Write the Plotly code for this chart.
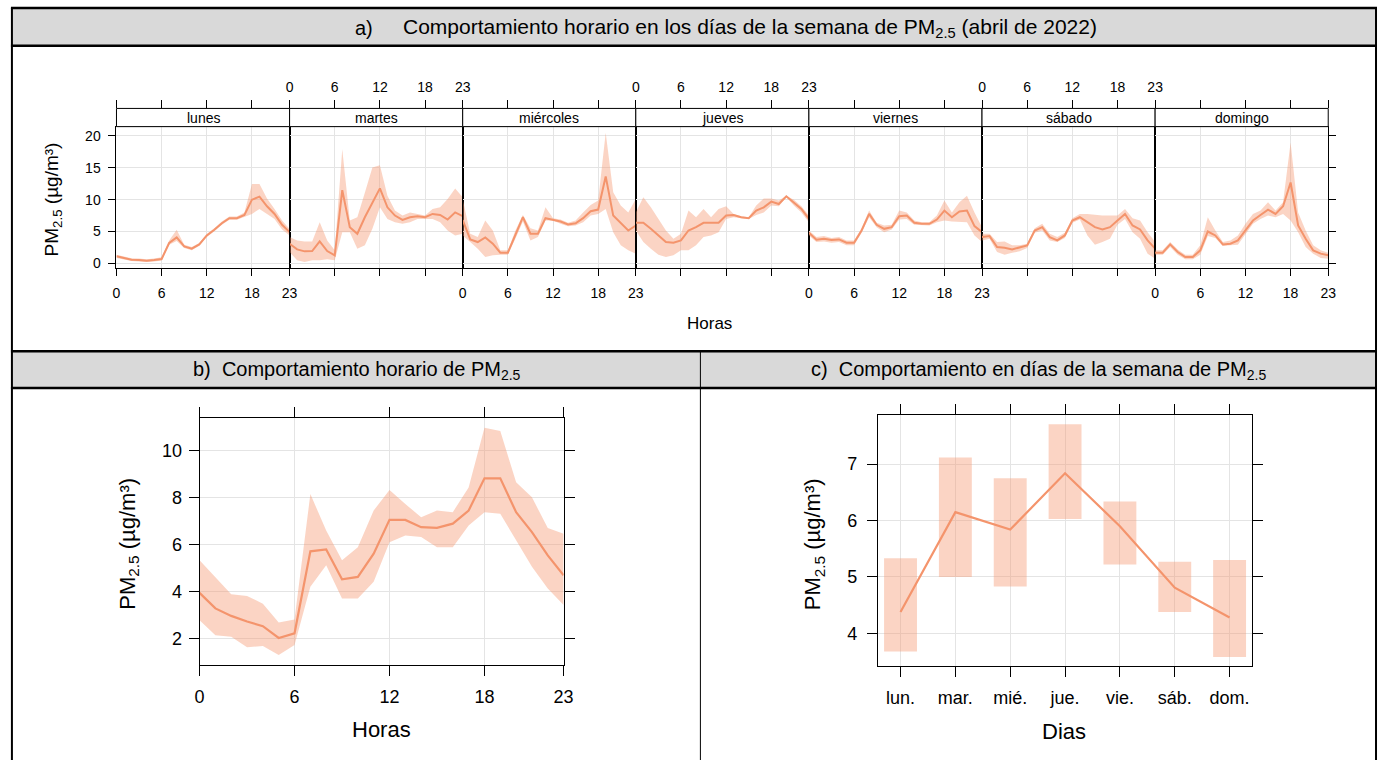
import plotly.graph_objects as go

W, H = 1387, 764
FONT = "Liberation Sans, Arial, sans-serif"
LINE_COL = "rgb(244,148,108)"
BAND_COL = "rgba(244,148,108,0.40)"
GRID_COL = "#e4e4e4"

# ---------------- data ----------------
HOURS = list(range(24))
DAY_NAMES = ["lunes", "martes", "miércoles", "jueves", "viernes", "sábado", "domingo"]

lunes_mean = [1.1, 0.84, 0.58, 0.53, 0.42, 0.53, 0.68, 3.2, 4.07, 2.66, 2.3, 2.97, 4.38, 5.27, 6.3, 7.09, 7.09, 7.6, 10.0, 10.47, 8.96, 7.76, 6.05, 4.9]
lunes_low = [0.85, 0.6, 0.35, 0.3, 0.2, 0.3, 0.45, 2.9, 3.5, 2.4, 2.05, 2.75, 4.15, 5.05, 6.05, 6.85, 6.85, 7.25, 7.76, 8.55, 7.76, 6.98, 5.3, 4.38]
lunes_high = [1.35, 1.1, 0.8, 0.75, 0.65, 0.75, 0.95, 3.6, 5.27, 2.9, 2.55, 3.2, 4.6, 5.5, 6.55, 7.35, 7.35, 8.0, 12.45, 12.45, 10.2, 8.55, 6.72, 5.4]

martes_mean = [3.07, 2.19, 1.88, 1.93, 3.44, 1.93, 1.26, 11.5, 5.68, 4.64, 7.24, 9.59, 11.77, 8.8, 7.5, 6.82, 7.24, 7.4, 7.24, 7.76, 7.6, 6.87, 8.0, 7.4]
martes_low = [1.78, 0.47, 0.21, 0.47, 0.47, 0.63, 0.47, 4.9, 4.9, 2.3, 2.82, 5.42, 8.8, 6.98, 6.46, 6.2, 6.46, 6.98, 6.98, 6.98, 6.46, 5.16, 4.38, 4.64]
martes_high = [4.12, 3.6, 3.44, 3.44, 6.46, 3.6, 2.04, 17.9, 6.72, 7.24, 11.1, 15.05, 15.4, 10.6, 8.28, 7.5, 8.0, 7.76, 7.5, 8.55, 8.8, 10.1, 11.77, 10.36]

miercoles_mean = [6.8, 3.75, 3.34, 4.07, 3.08, 1.67, 1.67, 4.48, 7.24, 4.64, 4.64, 7.09, 6.87, 6.57, 6.1, 6.3, 7.09, 8.18, 8.44, 13.65, 7.5, 6.36, 5.16, 5.94]
miercoles_low = [4.38, 3.34, 2.3, 0.99, 1.25, 1.36, 1.36, 3.86, 6.57, 3.6, 4.12, 6.72, 6.72, 6.2, 5.84, 5.94, 6.46, 7.5, 7.76, 8.55, 4.9, 2.82, 2.04, 1.52]
miercoles_high = [10.1, 4.64, 4.12, 6.72, 5.16, 2.04, 2.04, 5.16, 7.6, 5.52, 5.16, 8.8, 7.09, 6.87, 6.36, 6.72, 8.0, 9.17, 9.85, 20.5, 11.15, 9.07, 8.0, 10.1]

jueves_mean = [6.36, 6.36, 5.42, 4.38, 3.34, 3.23, 3.6, 5.16, 5.68, 6.36, 6.36, 6.36, 7.5, 7.6, 7.24, 7.09, 8.28, 8.8, 9.69, 9.32, 10.52, 9.59, 8.55, 6.98]
jueves_low = [5.16, 3.34, 2.3, 1.36, 0.99, 1.25, 2.04, 2.04, 2.82, 4.12, 4.38, 4.9, 6.98, 7.24, 7.09, 6.98, 7.6, 8.0, 9.07, 8.96, 10.36, 9.07, 8.0, 6.46]
jueves_high = [8.0, 10.36, 8.8, 6.98, 5.16, 3.86, 4.64, 8.28, 7.24, 8.55, 7.24, 8.55, 8.96, 7.76, 7.4, 7.24, 9.07, 10.2, 10.2, 9.85, 10.63, 10.0, 8.96, 7.5]

viernes_mean = [4.8, 3.7, 3.86, 3.65, 3.75, 3.23, 3.23, 5.16, 7.76, 6.05, 5.42, 5.68, 7.4, 7.5, 6.36, 6.2, 6.2, 6.87, 8.28, 7.24, 8.13, 8.28, 5.84, 4.9]
viernes_low = [4.38, 3.34, 3.44, 3.23, 3.34, 2.82, 2.82, 4.8, 7.24, 5.68, 4.9, 5.32, 6.87, 6.98, 6.05, 5.94, 5.94, 6.46, 6.72, 6.56, 6.46, 6.46, 4.38, 3.34]
viernes_high = [5.16, 4.12, 4.28, 3.96, 4.12, 3.6, 3.6, 5.52, 8.28, 6.36, 5.94, 6.05, 8.28, 8.0, 6.72, 6.46, 6.46, 7.5, 9.85, 8.0, 9.59, 10.63, 8.0, 5.68]

sabado_mean = [4.12, 4.28, 2.56, 2.45, 2.19, 2.45, 2.82, 5.16, 5.68, 4.12, 3.6, 4.38, 6.72, 7.24, 6.46, 5.68, 5.32, 5.68, 6.72, 7.76, 5.94, 5.32, 3.6, 2.3]
sabado_low = [3.6, 3.86, 1.78, 1.36, 1.67, 1.88, 2.4, 4.8, 5.16, 3.6, 3.34, 3.96, 6.36, 6.87, 4.38, 2.92, 3.34, 3.86, 6.05, 6.98, 4.9, 3.86, 1.52, 0.73]
sabado_high = [4.64, 4.64, 3.34, 3.44, 2.82, 2.82, 3.08, 5.52, 6.2, 4.64, 4.12, 4.8, 7.09, 7.76, 7.76, 7.6, 7.5, 7.5, 7.5, 8.55, 7.09, 6.72, 4.9, 3.34]

domingo_mean = [1.67, 1.67, 2.97, 1.78, 0.99, 0.99, 2.04, 5.0, 4.38, 2.97, 3.08, 3.6, 5.16, 6.72, 7.6, 8.44, 7.76, 8.96, 12.7, 5.94, 3.86, 2.04, 1.52, 1.26]
domingo_low = [1.36, 1.36, 2.56, 1.36, 0.63, 0.63, 1.36, 4.28, 3.96, 2.71, 2.82, 2.92, 4.64, 6.2, 6.98, 7.5, 7.24, 7.76, 6.72, 4.9, 2.56, 1.52, 0.84, 0.73]
domingo_high = [2.04, 2.04, 3.34, 2.19, 1.36, 1.36, 2.82, 7.24, 5.16, 3.34, 3.6, 4.38, 6.2, 7.76, 8.28, 9.59, 8.28, 9.59, 18.96, 8.0, 5.16, 2.82, 2.04, 1.67]

hourly_mean = [3.95, 3.29, 2.97, 2.73, 2.53, 2.03, 2.23, 5.72, 5.8, 4.53, 4.63, 5.62, 7.06, 7.06, 6.75, 6.72, 6.9, 7.46, 8.83, 8.83, 7.39, 6.54, 5.55, 4.70]
hourly_low = [2.79, 2.15, 2.08, 1.63, 1.69, 1.30, 1.73, 4.21, 5.13, 3.71, 3.71, 4.42, 6.11, 6.4, 6.33, 5.9, 5.9, 6.82, 7.39, 7.32, 6.19, 5.06, 4.14, 3.43]
hourly_high = [5.34, 4.63, 3.89, 3.82, 3.49, 2.69, 2.82, 8.16, 6.61, 5.34, 5.9, 7.46, 8.33, 7.74, 7.17, 7.46, 7.39, 8.44, 10.99, 10.85, 8.66, 8.02, 6.72, 6.47]

weekday_labels = ["lun.", "mar.", "mié.", "jue.", "vie.", "sáb.", "dom."]
weekday_mean = [4.38, 6.15, 5.84, 6.84, 5.9, 4.81, 4.28]
weekday_low = [3.68, 5.0, 4.83, 6.03, 5.22, 4.38, 3.58]
weekday_high = [5.33, 7.12, 6.75, 7.71, 6.34, 5.27, 5.30]

hour_ticks = [0, 6, 12, 18, 23]
a_yticks = [0, 5, 10, 15, 20]
b_yticks = [2, 4, 6, 8, 10]
c_yticks = [4, 5, 6, 7]

day_series = [
    (lunes_mean, lunes_low, lunes_high),
    (martes_mean, martes_low, martes_high),
    (miercoles_mean, miercoles_low, miercoles_high),
    (jueves_mean, jueves_low, jueves_high),
    (viernes_mean, viernes_low, viernes_high),
    (sabado_mean, sabado_low, sabado_high),
    (domingo_mean, domingo_low, domingo_high),
]


# ---------------- helpers ----------------
def X(px):
    return px / W


def Y(py):
    return 1 - py / H


def axname(i):
    return "x" if i == 1 else f"x{i}"


fig = go.Figure()

# ---------------- panel a ----------------
PA_L, PA_W = 112.7, 175.0
PA_TOP, PA_BOT = 127.3, 269.0
STRIP_TOP = 109.0

for d, (m, lo, hi) in enumerate(day_series):
    xa = axname(d + 1)
    fig.add_trace(go.Scatter(x=HOURS + HOURS[::-1], y=hi + lo[::-1], fill="toself",
                             fillcolor=BAND_COL, line=dict(width=0), mode="lines",
                             hoverinfo="skip", xaxis=xa, yaxis="y"))
    fig.add_trace(go.Scatter(x=HOURS, y=m, mode="lines", line=dict(color=LINE_COL, width=2),
                             xaxis=xa, yaxis="y"))
    fig.add_trace(go.Scatter(x=[], y=[], xaxis=f"x{d + 8}", yaxis="y", showlegend=False))
fig.add_trace(go.Scatter(x=[], y=[], xaxis="x7", yaxis="y2", showlegend=False))

tickfont_a = dict(family=FONT, size=14, color="black")
layout = {}
for d in range(7):
    dom = [X(PA_L + PA_W * d), X(PA_L + PA_W * (d + 1))]
    key = "xaxis" if d == 0 else f"xaxis{d + 1}"
    layout[key] = dict(domain=dom, range=[0, 23], tickvals=hour_ticks, ticks="outside", ticklen=7,
                       tickcolor="black", showline=True, mirror=True, linecolor="black", linewidth=1,
                       showgrid=True, gridcolor=GRID_COL, zeroline=False, anchor="y",
                       showticklabels=(d % 2 == 0), tickfont=tickfont_a, ticklabelstandoff=6,
                       fixedrange=True)
    layout[f"xaxis{d + 8}"] = dict(overlaying=axname(d + 1), anchor="free", position=Y(STRIP_TOP),
                                   side="top", range=[0, 23], tickvals=hour_ticks, ticks="outside",
                                   ticklen=8, tickcolor="black", showline=False, showgrid=False,
                                   zeroline=False, showticklabels=(d % 2 == 1), tickfont=tickfont_a,
                                   ticklabelstandoff=3)
layout["yaxis"] = dict(domain=[Y(PA_BOT), Y(PA_TOP)], range=[-0.67, 21.47], tickvals=a_yticks,
                       ticks="outside", ticklen=7, tickcolor="black", showline=True, mirror="all",
                       linecolor="black", linewidth=1, showgrid=True, gridcolor=GRID_COL,
                       zeroline=False, anchor="x", tickfont=tickfont_a, ticklabelstandoff=5)
layout["yaxis2"] = dict(overlaying="y", anchor="x7", side="right", range=[-0.67, 21.47],
                        tickvals=a_yticks, ticks="outside", ticklen=7, tickcolor="black",
                        showticklabels=False, showgrid=False, zeroline=False, showline=False)

# ---------------- panel b ----------------
fig.add_trace(go.Scatter(x=HOURS + HOURS[::-1], y=hourly_high + hourly_low[::-1], fill="toself",
                         fillcolor=BAND_COL, line=dict(width=0), mode="lines", hoverinfo="skip",
                         xaxis="x15", yaxis="y3"))
fig.add_trace(go.Scatter(x=HOURS, y=hourly_mean, mode="lines", line=dict(color=LINE_COL, width=2.2),
                         xaxis="x15", yaxis="y3"))
tickfont_b = dict(family=FONT, size=18, color="black")
layout["xaxis15"] = dict(domain=[X(196.7), X(564.7)], range=[0, 23], tickvals=hour_ticks,
                         ticks="outside", ticklen=10, tickcolor="black", showline=True, mirror="ticks",
                         linecolor="black", linewidth=1, showgrid=True, gridcolor=GRID_COL,
                         zeroline=False, anchor="y3", tickfont=tickfont_b, ticklabelstandoff=5)
layout["yaxis3"] = dict(domain=[Y(668.7), Y(420)], range=[0.87, 11.41], tickvals=b_yticks,
                        ticks="outside", ticklen=10, tickcolor="black", showline=True, mirror="ticks",
                        linecolor="black", linewidth=1, showgrid=True, gridcolor=GRID_COL,
                        zeroline=False, anchor="x15", tickfont=tickfont_b, ticklabelstandoff=3)

# ---------------- panel c ----------------
day_idx = list(range(1, 8))
fig.add_trace(go.Bar(x=day_idx, y=[h - l for h, l in zip(weekday_high, weekday_low)], base=weekday_low,
                     width=0.6, marker=dict(color=BAND_COL, line=dict(width=0)), xaxis="x16", yaxis="y4",
                     hoverinfo="skip"))
fig.add_trace(go.Scatter(x=day_idx, y=weekday_mean, mode="lines", line=dict(color=LINE_COL, width=2.2),
                         xaxis="x16", yaxis="y4"))
layout["xaxis16"] = dict(domain=[X(882.3), X(1261)], range=[0.585, 7.415], tickvals=day_idx,
                         ticktext=weekday_labels, ticks="outside", ticklen=10, tickcolor="black",
                         showline=True, mirror="ticks", linecolor="black", linewidth=1, showgrid=True,
                         gridcolor=GRID_COL, zeroline=False, anchor="y4", tickfont=tickfont_b,
                         ticklabelstandoff=6)
layout["yaxis4"] = dict(domain=[Y(669.3), Y(417.3)], range=[3.425, 7.87], tickvals=c_yticks,
                        ticks="outside", ticklen=10, tickcolor="black", showline=True, mirror="ticks",
                        linecolor="black", linewidth=1, showgrid=True, gridcolor=GRID_COL,
                        zeroline=False, anchor="x16", tickfont=tickfont_b, ticklabelstandoff=6)

# ---------------- frame / headers ----------------
GRAY = "#d9d9d9"
shapes = [
    dict(type="rect", xref="paper", yref="paper", x0=X(7), x1=X(1386), y0=Y(46), y1=Y(8),
         fillcolor=GRAY, line=dict(width=0), layer="below"),
    dict(type="rect", xref="paper", yref="paper", x0=X(7), x1=X(1386), y0=Y(390), y1=Y(353),
         fillcolor=GRAY, line=dict(width=0), layer="below"),
]
for yy in (8, 46, 353, 390):
    shapes.append(dict(type="line", xref="paper", yref="paper", x0=X(6), x1=X(1387), y0=Y(yy), y1=Y(yy),
                       line=dict(color="black", width=2.5)))
for xx in (7, 1386):
    shapes.append(dict(type="line", xref="paper", yref="paper", x0=X(xx), x1=X(xx), y0=Y(764), y1=Y(8),
                       line=dict(color="black", width=2)))
shapes.append(dict(type="line", xref="paper", yref="paper", x0=X(703), x1=X(703), y0=Y(764), y1=Y(353),
                   line=dict(color="black", width=1)))

annotations = []
for d, name in enumerate(DAY_NAMES):
    xr = "x domain" if d == 0 else f"x{d + 1} domain"
    shapes.append(dict(type="rect", xref=xr, yref="paper", x0=0, x1=1, y0=Y(PA_TOP), y1=Y(STRIP_TOP),
                       fillcolor="white", line=dict(color="black", width=1)))
    annotations.append(dict(text=name, xref=xr, yref="paper", x=0.5, y=Y((PA_TOP + STRIP_TOP) / 2),
                            showarrow=False, font=dict(family=FONT, size=14, color="black"),
                            xanchor="center", yanchor="middle"))

PM = "PM<sub>2.5</sub> (µg/m³)"


def ann(text, px, py, size, angle=0, xanchor="center"):
    return dict(text=text, xref="paper", yref="paper", x=X(px), y=Y(py), showarrow=False,
                textangle=angle, xanchor=xanchor, yanchor="middle",
                font=dict(family=FONT, size=size, color="black"))


annotations += [
    ann("a)", 363, 28, 20),
    ann("Comportamiento horario en los días de la semana de PM<sub>2.5</sub> (abril de 2022)", 400, 28, 21,
        xanchor="left"),
    ann("b)  Comportamiento horario de PM<sub>2.5</sub>", 356, 372, 20),
    ann("c)  Comportamiento en días de la semana de PM<sub>2.5</sub>", 1045, 372, 20),
    ann(PM, 48, 200, 19, -90),
    ann("Horas", 712, 325, 17),
    ann(PM, 125, 547, 22, -90),
    ann("Horas", 381, 733, 22),
    ann(PM, 818, 547, 22, -90),
    ann("Dias", 1071, 735, 22),
]

fig.update_layout(width=W, height=H, margin=dict(l=0, r=0, t=0, b=0), paper_bgcolor="white",
                  plot_bgcolor="rgba(0,0,0,0)", showlegend=False, shapes=shapes,
                  annotations=annotations, font=dict(family=FONT, color="black"), **layout)

fig.write_html("out.html", config={"displayModeBar": False},
               post_script="document.body.style.margin='0px';document.body.style.overflow='hidden';")
